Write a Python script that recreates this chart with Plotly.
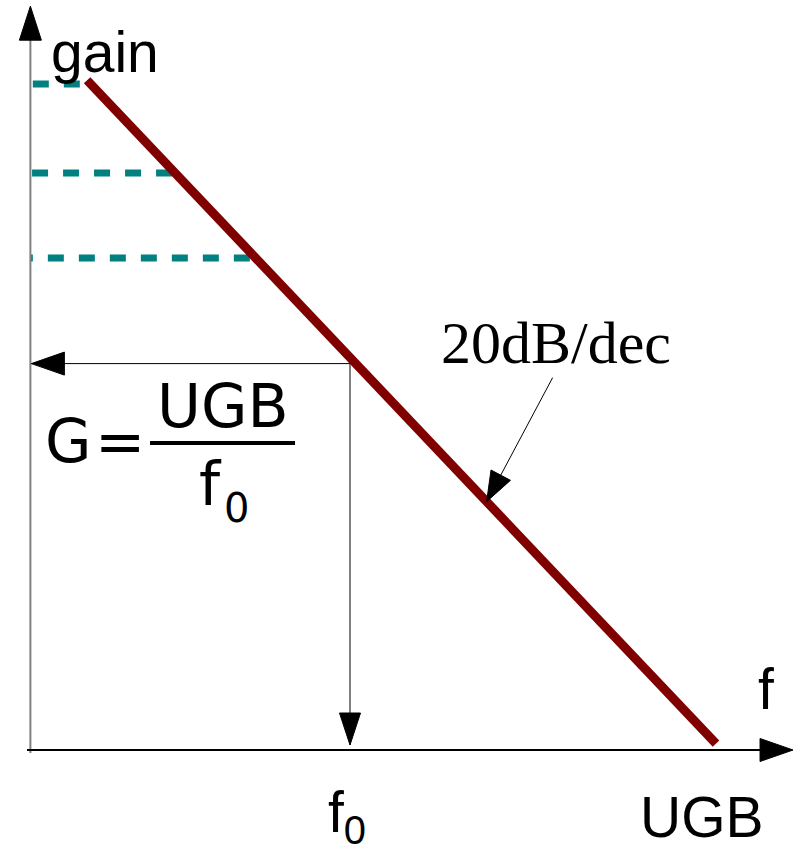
import numpy as np
import plotly.graph_objects as go

# ---------------- data (frequency in Hz, gain in dB) ----------------
slope_f = [7.0, 1.0e6]            # 20 dB/dec roll-off line
slope_gain = [104.0, 1.0]
level_gain = [103.4, 89.6, 76.4]  # dashed gain levels
level_f_end = [6.1, 34.8, 151.0]  # where each level meets the roll-off
f_axis = 2.4                      # frequency at the gain axis
f0 = 1.0e3
G = 60.0
UGB = 1.0e6
f_axis_end = 4.28e6               # tip of frequency axis arrow
gain_axis_top = 115.5             # tip of gain axis arrow
slope_label_f = 10 ** 4.12        # where the "20dB/dec" pointer touches

# ---------------- layout constants ----------------
W, H = 799, 853
PX_PER_DEC = 122.0
PX_PER_DB = 6.44
X0 = -16.0   # pixel of log10(f)=0
Y0 = 750.0   # pixel of 0 dB

def P(px, py):
    return px / W, 1 - py / H

lx = lambda f: float(np.log10(f))

fig = go.Figure()

# dashed levels (drawn from the roll-off towards the axis)
for g, fe in zip(level_gain, level_f_end):
    fig.add_trace(go.Scatter(x=[lx(fe), lx(f_axis)], y=[g, g], mode="lines",
                             line=dict(color="#008080", width=7, dash="16px,15px"),
                             hoverinfo="skip"))

# G arrow lines
fig.add_trace(go.Scatter(x=[lx(f0), lx(f_axis)], y=[G, G], mode="lines",
                         line=dict(color="black", width=1), hoverinfo="skip"))
fig.add_trace(go.Scatter(x=[lx(f0), lx(f0)], y=[G, 0.8], mode="lines",
                         line=dict(color="black", width=1), hoverinfo="skip"))

# roll-off line
fig.add_trace(go.Scatter(x=[lx(f) for f in slope_f], y=slope_gain, mode="lines",
                         line=dict(color="#800000", width=9), hoverinfo="skip"))

shapes = []
# axes
shapes.append(dict(type="line", xref="x", yref="y", x0=lx(f_axis), x1=lx(f_axis),
                   y0=-0.47, y1=gain_axis_top - 4, line=dict(color="#808080", width=2)))
shapes.append(dict(type="line", xref="x", yref="y", x0=(27 - X0) / PX_PER_DEC,
                   x1=lx(f_axis_end) - 0.1, y0=0, y1=0, line=dict(color="black", width=2)))


def head(xa, ya, dx, dy, length=33, half=11.5, tox=0, toy=0):
    n = (dx * dx + dy * dy) ** 0.5
    ux, uy = dx / n, dy / n
    bx, by = tox - length * ux, toy - length * uy
    px_, py_ = -uy, ux
    c1 = (bx + half * px_, by + half * py_)
    c2 = (bx - half * px_, by - half * py_)
    path = f"M{tox:.2f},{toy:.2f} L{c1[0]:.2f},{c1[1]:.2f} L{c2[0]:.2f},{c2[1]:.2f} Z"
    return dict(type="path", xref="x", yref="y", xsizemode="pixel", ysizemode="pixel",
                xanchor=xa, yanchor=ya, path=path, fillcolor="black",
                line=dict(color="black", width=1))

shapes.append(head(lx(f_axis), gain_axis_top, 0, 1, length=34, half=11))
shapes.append(head(lx(f_axis_end), 0, 1, 0, length=33, half=11.5))
shapes.append(head(lx(f_axis), G, -1, 0, length=33, half=11.5, tox=1))
shapes.append(head(lx(f0), 0, 0, -1, length=32, half=10.5, toy=5))

# pointer for slope label
sx = np.log10(slope_label_f)
sy = float(np.interp(sx, [lx(f) for f in slope_f], slope_gain))
shapes.append(dict(type="line", xref="x", yref="y", xsizemode="pixel", ysizemode="pixel",
                   xanchor=sx, yanchor=sy, x0=8, y0=15, x1=66, y1=124,
                   line=dict(color="black", width=1)))
shapes.append(head(sx, sy, -66, -124, length=30, half=11))

# fraction bar
bx0, by0 = P(150, 443)
bx1, _ = P(295, 443)
shapes.append(dict(type="line", xref="paper", yref="paper", x0=bx0, x1=bx1, y0=by0, y1=by0,
                   line=dict(color="black", width=4)))

SANS = "Liberation Sans, Arial, sans-serif"
SERIF = "Liberation Serif, Times New Roman, serif"
GEO = "DejaVu Sans, sans-serif"

def label(text, cx, cy, size, family, xanchor="center", yanchor="middle"):
    x, y = P(cx, cy)
    return dict(text=text, x=x, y=y, xref="paper", yref="paper", showarrow=False,
                xanchor=xanchor, yanchor=yanchor, borderpad=0,
                font=dict(size=size, family=family, color="black"))

annotations = [
    label("gain", 105.5, 52, 57, SANS),
    label("f", 765.5, 689, 57, SANS),
    label("UGB", 702, 817, 57, SANS),
    label("f<sub>0</sub>", 347, 853, 57, SANS, yanchor="bottom"),
    label("20dB/dec", 556, 342.6, 60, SERIF),
    label("G", 68.5, 441, 60, GEO),
    label("=", 120, 441, 60, GEO),
    label("UGB", 223, 406, 60, GEO),
    label("f", 211, 484, 60, GEO),
    label("0", 236.5, 508, 40, GEO),
]

fig.update_layout(
    width=W, height=H, margin=dict(l=0, r=0, t=0, b=0),
    paper_bgcolor="white", plot_bgcolor="white", showlegend=False,
    xaxis=dict(range=[(0 - X0) / PX_PER_DEC, (W - X0) / PX_PER_DEC], visible=False,
               fixedrange=True),
    yaxis=dict(range=[(Y0 - H) / PX_PER_DB, Y0 / PX_PER_DB], visible=False,
               fixedrange=True),
    shapes=shapes, annotations=annotations,
)

fig.write_html("out.html", config={"displayModeBar": False},
               post_script="document.body.style.margin='0px';"
                           "document.body.style.overflow='hidden';")
